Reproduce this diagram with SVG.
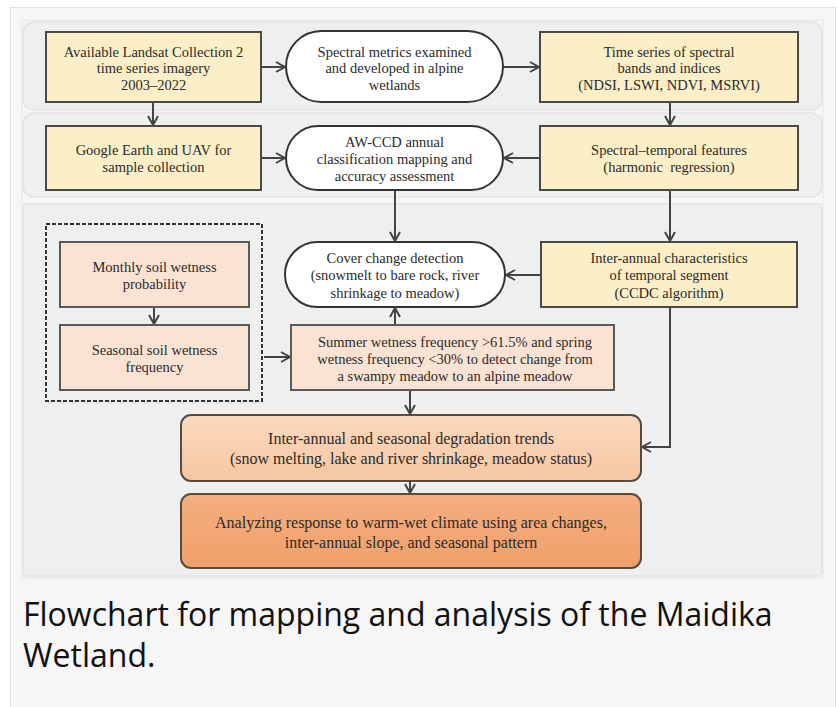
<svg xmlns="http://www.w3.org/2000/svg" width="838" height="707" viewBox="0 0 838 707">
<defs>
<marker id="arr" markerUnits="userSpaceOnUse" markerWidth="12" markerHeight="12" viewBox="0 0 12 12" refX="10" refY="6" orient="auto">
<path d="M1,1 L10,6 L1,11" fill="none" stroke="#444" stroke-width="2"/>
</marker>
<linearGradient id="gL" x1="0" y1="0" x2="0" y2="1">
<stop offset="0" stop-color="#fbd9bd"/>
<stop offset="1" stop-color="#f6c7a2"/>
</linearGradient>
<linearGradient id="gM" x1="0" y1="0" x2="0" y2="1">
<stop offset="0" stop-color="#f4ae80"/>
<stop offset="1" stop-color="#f0a06a"/>
</linearGradient>
</defs>
<style>
.t{font-family:"Liberation Serif","Times New Roman",serif;font-size:14.5px;fill:#2a2a2a;text-anchor:middle}
.tb{font-family:"Liberation Serif","Times New Roman",serif;font-size:16px;fill:#2a2a2a;text-anchor:middle}
.y{fill:#fcefc8;stroke:#4a4a4a;stroke-width:2}
.p{fill:#fbe3d3;stroke:#5a5a5a;stroke-width:2}
.pill{fill:#ffffff;stroke:#333;stroke-width:2}
.band{fill:#eef0f0;stroke:#e1e3e3;stroke-width:1.5}
.c{fill:none;stroke:#444;stroke-width:2;marker-end:url(#arr)}
.cap{font-family:"Open Sans","Noto Sans",sans-serif;font-size:32px;fill:#111}
</style>
<rect x="0" y="0" width="838" height="707" fill="#ffffff"/>
<rect x="10.5" y="7.5" width="825" height="720" fill="#f6f6f6" stroke="#e0e0e0"/>
<rect x="22" y="20" width="801" height="558" fill="#f5f6f6" stroke="#e6e6e6"/>
<rect class="band" x="23" y="22" width="799" height="88" rx="11"/>
<rect class="band" x="23" y="113" width="799" height="84" rx="11"/>
<rect class="band" x="23" y="204" width="799" height="372" rx="4"/>

<g id="connectors">
<path class="c" d="M261,67 H285"/>
<path class="c" d="M503,67 H539"/>
<path class="c" d="M153,102 V125"/>
<path class="c" d="M670,102 V125"/>
<path class="c" d="M261,158 H285"/>
<path class="c" d="M540,158 H504"/>
<path class="c" d="M395,190 V241"/>
<path class="c" d="M670,190 V241"/>
<path class="c" d="M541,275 H506"/>
<path class="c" d="M154,307 V324"/>
<path class="c" d="M264,357 H290"/>
<path class="c" d="M395,325 V308"/>
<path class="c" d="M410,390 V414"/>
<path class="c" d="M670,307 V447 H642"/>
<path class="c" d="M410,481 V493"/>
</g>

<g id="n-landsat">
<rect class="y" x="46" y="32" width="215" height="70"/>
<text class="t" x="153.5" y="56.5">Available Landsat Collection 2</text>
<text class="t" x="153.5" y="73">time series imagery</text>
<text class="t" x="153.5" y="89.5">2003–2022</text>
</g>
<g id="n-spectral-metrics">
<rect class="pill" x="286" y="31" width="217" height="71" rx="35.5"/>
<text class="t" x="394.5" y="56.5">Spectral metrics examined</text>
<text class="t" x="394.5" y="73">and developed in alpine</text>
<text class="t" x="394.5" y="89.5">wetlands</text>
</g>
<g id="n-timeseries">
<rect class="y" x="540" y="32" width="258" height="70"/>
<text class="t" x="669" y="56.5">Time series of spectral</text>
<text class="t" x="669" y="73">bands and indices</text>
<text class="t" x="669" y="89.5">(NDSI, LSWI, NDVI, MSRVI)</text>
</g>
<g id="n-google">
<rect class="y" x="46" y="126" width="215" height="64"/>
<text class="t" x="153.5" y="154.5">Google Earth and UAV for</text>
<text class="t" x="153.5" y="172">sample collection</text>
</g>
<g id="n-awccd">
<rect class="pill" x="286" y="126" width="217" height="64" rx="32"/>
<text class="t" x="394.5" y="146.5">AW-CCD annual</text>
<text class="t" x="394.5" y="163.5">classification mapping and</text>
<text class="t" x="394.5" y="180.5">accuracy assessment</text>
</g>
<g id="n-features">
<rect class="y" x="540" y="126" width="258" height="64"/>
<text class="t" x="669" y="154.5">Spectral–temporal features</text>
<text class="t" x="669" y="172" xml:space="preserve">(harmonic  regression)</text>
</g>
<g id="soil-group">
<rect x="46" y="224" width="216" height="177" fill="none" stroke="#333" stroke-width="2" stroke-dasharray="4 2"/>
</g>
<g id="n-monthly">
<rect class="p" x="60" y="242" width="189" height="65"/>
<text class="t" x="154.5" y="271.5">Monthly soil wetness</text>
<text class="t" x="154.5" y="289">probability</text>
</g>
<g id="n-seasonal">
<rect class="p" x="60" y="325" width="189" height="65"/>
<text class="t" x="154.5" y="354.5">Seasonal soil wetness</text>
<text class="t" x="154.5" y="371.5">frequency</text>
</g>
<g id="n-cover">
<rect class="pill" x="285" y="242" width="220" height="65" rx="32.5"/>
<text class="t" x="395" y="262.5">Cover change detection</text>
<text class="t" x="395" y="280">(snowmelt to bare rock, river</text>
<text class="t" x="395" y="297.5">shrinkage to meadow)</text>
</g>
<g id="n-interannual">
<rect class="y" x="541" y="242" width="256" height="65"/>
<text class="t" x="669" y="262.5">Inter-annual characteristics</text>
<text class="t" x="669" y="280">of temporal segment</text>
<text class="t" x="669" y="297.5">(CCDC algorithm)</text>
</g>
<g id="n-summer">
<rect class="p" x="291" y="325" width="323" height="65"/>
<text class="t" x="455" y="346.5">Summer wetness frequency &gt;61.5% and spring</text>
<text class="t" x="455" y="363.5">wetness frequency &lt;30% to detect change from</text>
<text class="t" x="455" y="380.5">a swampy meadow to an alpine meadow</text>
</g>
<g id="n-trends">
<rect x="181" y="415" width="460" height="66" rx="10" fill="url(#gL)" stroke="#5a4a40" stroke-width="2"/>
<text class="tb" x="411" y="444">Inter-annual and seasonal degradation trends</text>
<text class="tb" x="411" y="464">(snow melting, lake and river shrinkage, meadow status)</text>
</g>
<g id="n-response">
<rect x="181" y="494" width="460" height="74" rx="10" fill="url(#gM)" stroke="#5a4a40" stroke-width="2"/>
<text class="tb" x="411" y="528">Analyzing response to warm-wet climate using area changes,</text>
<text class="tb" x="411" y="548">inter-annual slope, and seasonal pattern</text>
</g>
<text class="cap" x="23" y="626">Flowchart for mapping and analysis of the Maidika</text>
<text class="cap" x="23" y="667">Wetland.</text>
</svg>
